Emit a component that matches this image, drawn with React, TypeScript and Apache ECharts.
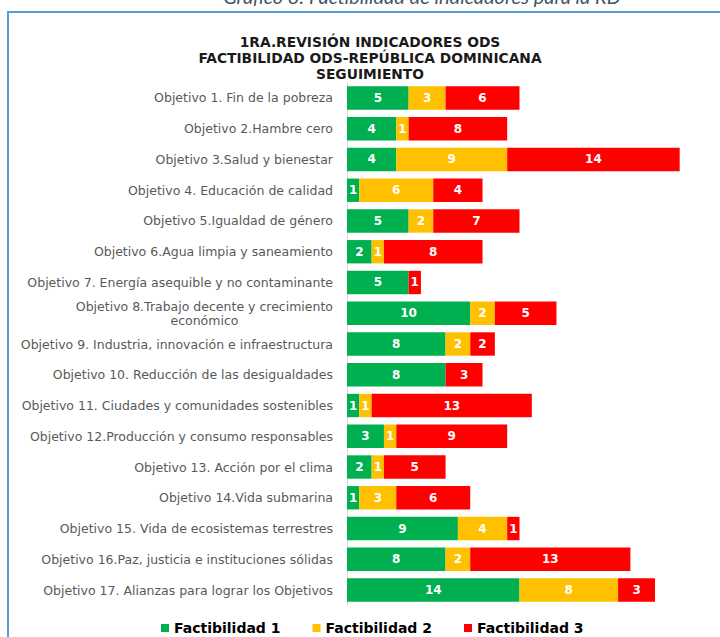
import React, { useEffect, useRef } from "react";
import * as echarts from "echarts";

const categories = [
  "Objetivo 1. Fin de la pobreza",
  "Objetivo 2.Hambre cero",
  "Objetivo 3.Salud y bienestar",
  "Objetivo 4. Educación de calidad",
  "Objetivo 5.Igualdad de género",
  "Objetivo 6.Agua limpia y saneamiento",
  "Objetivo 7. Energía asequible y no contaminante",
  "Objetivo 8.Trabajo decente y crecimiento económico",
  "Objetivo 9. Industria, innovación e infraestructura",
  "Objetivo 10. Reducción de las desigualdades",
  "Objetivo 11. Ciudades y comunidades sostenibles",
  "Objetivo 12.Producción y consumo responsables",
  "Objetivo 13. Acción por el clima",
  "Objetivo 14.Vida submarina",
  "Objetivo 15. Vida de ecosistemas terrestres",
  "Objetivo 16.Paz, justicia e instituciones sólidas",
  "Objetivo 17. Alianzas para lograr los Objetivos",
];

const factibilidad1 = [5, 4, 4, 1, 5, 2, 5, 10, 8, 8, 1, 3, 2, 1, 9, 8, 14];
const factibilidad2 = [3, 1, 9, 6, 2, 1, 0, 2, 2, 0, 1, 1, 1, 3, 4, 2, 8];
const factibilidad3 = [6, 8, 14, 4, 7, 8, 1, 5, 2, 3, 13, 9, 5, 6, 1, 13, 3];

const seriesNames = ["Factibilidad 1", "Factibilidad 2", "Factibilidad 3"];
const seriesColors = ["#00B050", "#FFC000", "#FF0000"];

const titleLines = [
  "1RA.REVISIÓN INDICADORES ODS",
  "FACTIBILIDAD ODS-REPÚBLICA DOMINICANA",
  "SEGUIMIENTO",
];
const caption = "Gráfico 8: Factibilidad de indicadores para la RD";

export default function App() {
  const ref = useRef<HTMLDivElement>(null);

  useEffect(() => {
    if (!ref.current) return;
    const chart = echarts.init(ref.current, undefined, { renderer: "svg" });
    const values = [factibilidad1, factibilidad2, factibilidad3];
    const labelFont = { color: "#595959", fontFamily: "DejaVu Sans", fontSize: 12.5 };
    const option = {
      animation: false,
      backgroundColor: "#ffffff",
      graphic: [
        {
          type: "rect",
          shape: { x: 8, y: 12, width: 800, height: 700 },
          style: { fill: "none", stroke: "#5B9BD5", lineWidth: 2 },
          silent: true,
        },
        {
          type: "text",
          x: 422,
          y: -4,
          style: {
            text: caption,
            font: "italic 20px Lato",
            fill: "#44546A",
            textAlign: "center",
            textVerticalAlign: "middle",
          },
        },
        ...titleLines.map((t, i) => ({
          type: "text",
          x: 370,
          y: 42 + i * 15.8,
          style: {
            text: t,
            font: "bold 13.8px 'DejaVu Sans'",
            fill: "#1a1a1a",
            textAlign: "center",
            textVerticalAlign: "middle",
          },
        })),
      ],
      legend: {
        left: 156,
        top: 616,
        itemWidth: 8,
        itemHeight: 8,
        itemGap: 32,
        icon: "rect",
        textStyle: {
          fontFamily: "DejaVu Sans",
          fontWeight: "bold",
          fontSize: 14,
          color: "#000000",
        },
        data: seriesNames,
      },
      grid: { left: 347, right: 28, top: 82.6, bottom: 31.6, containLabel: false },
      xAxis: {
        type: "value",
        min: 0,
        max: 28,
        show: false,
        splitLine: { show: false },
      },
      yAxis: {
        type: "category",
        inverse: true,
        data: categories,
        axisTick: { show: false },
        axisLine: { show: true, lineStyle: { color: "#D9D9D9", width: 1 } },
        axisLabel: {
          margin: 14,
          ...labelFont,
          formatter: (v: string) => {
            if (v.indexOf("Trabajo decente") >= 0) {
              return "{a|Objetivo 8.Trabajo decente y crecimiento}\n{c|económico}";
            }
            return v;
          },
          rich: {
            a: { ...labelFont, align: "right", lineHeight: 14 },
            c: { ...labelFont, align: "center", lineHeight: 14 },
          },
        },
      },
      series: seriesNames.map((name, i) => ({
        name,
        type: "bar",
        stack: "total",
        barCategoryGap: "24%",
        itemStyle: { color: seriesColors[i] },
        label: {
          show: true,
          position: "inside",
          color: "#ffffff",
          fontFamily: "DejaVu Sans",
          fontWeight: "bold",
          fontSize: 12,
          formatter: (p: any) => (p.value ? String(p.value) : ""),
        },
        data: values[i].map((v) => (v === 0 ? null : v)),
      })),
    };
    chart.setOption(option as any);
    return () => chart.dispose();
  }, []);

  return (
    <div
      ref={ref}
      style={{ position: "fixed", left: 0, top: 0, width: 720, height: 637 }}
    />
  );
}
